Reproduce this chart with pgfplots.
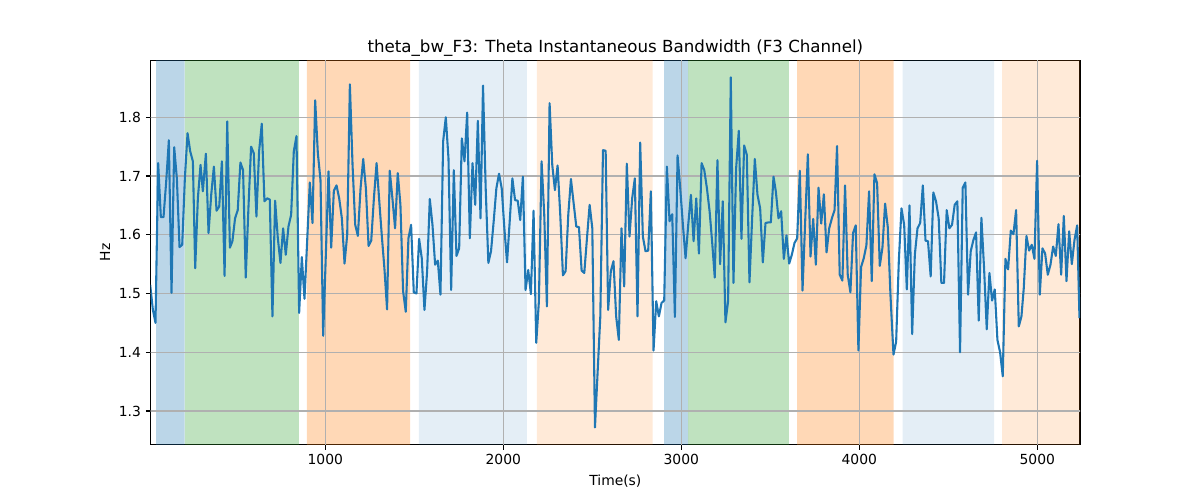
\documentclass[border=0pt]{standalone}
\usepackage{pgfplots}
\pgfplotsset{compat=1.18}
\usepackage{pgfplotstable}
\usepackage{fontspec}
\setmainfont{DejaVu Sans}
\definecolor{tabblue}{HTML}{1F77B4}
\definecolor{tabgreen}{HTML}{2CA02C}
\definecolor{taborange}{HTML}{FF7F0E}
\definecolor{gridgray}{RGB}{176,176,176}
\pgfplotstableread{
x y
16 1.515
31 1.473
46 1.450
61 1.722
76 1.630
91 1.630
106 1.690
121 1.761
136 1.501
151 1.749
166 1.696
181 1.579
196 1.583
211 1.696
226 1.773
241 1.742
256 1.725
269 1.543
284 1.662
299 1.719
312 1.674
329 1.738
344 1.603
359 1.668
374 1.716
389 1.641
404 1.648
419 1.725
434 1.530
449 1.793
464 1.578
478 1.589
493 1.628
508 1.642
523 1.723
538 1.710
553 1.527
568 1.645
583 1.750
598 1.739
613 1.631
628 1.742
643 1.789
658 1.657
673 1.662
688 1.660
703 1.461
718 1.658
733 1.595
748 1.552
763 1.611
778 1.566
793 1.614
808 1.634
823 1.742
838 1.768
853 1.467
868 1.562
883 1.491
898 1.589
913 1.689
928 1.620
943 1.829
958 1.739
973 1.693
988 1.428
1003 1.566
1018 1.708
1033 1.578
1048 1.675
1063 1.684
1078 1.662
1093 1.628
1108 1.551
1123 1.600
1138 1.856
1153 1.719
1168 1.617
1183 1.598
1198 1.679
1213 1.729
1228 1.679
1243 1.581
1258 1.590
1273 1.662
1288 1.722
1302 1.662
1317 1.600
1332 1.543
1347 1.473
1362 1.709
1377 1.662
1392 1.611
1407 1.705
1422 1.651
1437 1.504
1452 1.469
1467 1.594
1482 1.617
1497 1.502
1512 1.500
1527 1.593
1542 1.560
1557 1.472
1572 1.538
1587 1.661
1602 1.617
1617 1.549
1632 1.556
1647 1.498
1662 1.759
1677 1.800
1692 1.730
1707 1.506
1722 1.710
1737 1.564
1752 1.577
1767 1.764
1782 1.725
1797 1.808
1812 1.594
1827 1.722
1842 1.651
1857 1.794
1872 1.628
1886 1.854
1901 1.679
1916 1.552
1931 1.572
1946 1.623
1961 1.679
1976 1.704
1991 1.679
2006 1.611
2021 1.553
2036 1.623
2051 1.696
2066 1.659
2081 1.658
2095 1.625
2110 1.699
2125 1.506
2140 1.540
2155 1.499
2170 1.641
2185 1.416
2200 1.487
2215 1.725
2230 1.634
2245 1.478
2260 1.824
2275 1.719
2290 1.676
2305 1.718
2320 1.634
2335 1.531
2350 1.538
2365 1.634
2380 1.695
2395 1.654
2410 1.614
2425 1.613
2440 1.539
2455 1.535
2470 1.594
2485 1.651
2500 1.611
2515 1.272
2530 1.367
2545 1.461
2560 1.744
2575 1.743
2589 1.472
2604 1.538
2619 1.555
2634 1.461
2649 1.421
2664 1.611
2679 1.512
2694 1.721
2709 1.597
2724 1.662
2739 1.696
2754 1.461
2769 1.757
2784 1.597
2799 1.572
2814 1.573
2829 1.674
2844 1.403
2859 1.487
2874 1.461
2889 1.484
2904 1.488
2919 1.716
2934 1.623
2949 1.635
2964 1.460
2979 1.735
2994 1.679
3009 1.617
3024 1.560
3039 1.617
3054 1.668
3069 1.589
3084 1.662
3099 1.568
3114 1.722
3129 1.710
3144 1.679
3159 1.640
3173 1.589
3188 1.527
3203 1.727
3218 1.550
3233 1.657
3248 1.451
3263 1.487
3278 1.868
3293 1.518
3308 1.713
3323 1.777
3338 1.593
3353 1.752
3368 1.736
3383 1.519
3398 1.628
3413 1.729
3428 1.668
3443 1.645
3458 1.553
3473 1.620
3488 1.621
3503 1.621
3518 1.699
3531 1.674
3546 1.628
3561 1.640
3576 1.559
3591 1.599
3606 1.551
3621 1.566
3636 1.586
3651 1.594
3666 1.709
3681 1.505
3696 1.623
3711 1.737
3726 1.563
3741 1.627
3756 1.549
3771 1.680
3786 1.619
3801 1.669
3816 1.570
3831 1.611
3846 1.628
3861 1.642
3875 1.751
3890 1.532
3905 1.522
3920 1.684
3935 1.532
3950 1.502
3965 1.603
3980 1.616
3995 1.403
4010 1.545
4025 1.560
4040 1.582
4055 1.674
4070 1.521
4085 1.703
4100 1.688
4115 1.547
4130 1.578
4145 1.653
4160 1.613
4175 1.498
4192 1.396
4207 1.418
4222 1.555
4237 1.645
4252 1.617
4267 1.507
4282 1.650
4297 1.431
4312 1.566
4327 1.611
4342 1.620
4357 1.684
4372 1.590
4386 1.589
4401 1.529
4416 1.672
4431 1.657
4446 1.628
4461 1.518
4476 1.518
4491 1.642
4506 1.611
4521 1.617
4536 1.651
4551 1.657
4566 1.400
4581 1.680
4596 1.689
4611 1.498
4626 1.572
4641 1.591
4656 1.604
4671 1.454
4686 1.629
4701 1.543
4716 1.439
4731 1.535
4746 1.488
4761 1.507
4776 1.421
4791 1.400
4806 1.359
4821 1.559
4836 1.541
4851 1.607
4866 1.601
4881 1.642
4896 1.444
4911 1.461
4924 1.509
4939 1.598
4954 1.573
4969 1.583
4984 1.559
4999 1.726
5014 1.498
5029 1.577
5044 1.568
5059 1.532
5074 1.549
5089 1.580
5104 1.564
5119 1.618
5134 1.532
5149 1.632
5164 1.521
5179 1.606
5194 1.550
5209 1.591
5224 1.616
5237 1.458
}\datatable
\begin{document}
\begin{tikzpicture}
\path[use as bounding box] (0,0) rectangle (864pt,360pt);
\begin{axis}[
  at={(108.5pt,39.8pt)}, anchor=south west,
  scale only axis,
  width=669.1pt, height=276.8pt,
  xmin=19, xmax=5240, ymin=1.2426, ymax=1.897,
  xtick={1000,2000,3000,4000,5000},
  ytick={1.3,1.4,1.5,1.6,1.7,1.8},
  xtick pos=lower, ytick pos=left,
  tick align=outside,
  major tick length=3.5pt,
  tick style={black, line width=0.8pt},
  axis line style={line width=0.8pt},
  tick label style={font=\fontsize{10}{12}\selectfont},
  /pgf/number format/assume math mode=true,
  /pgf/number format/1000 sep={},
  yticklabel style={/pgf/number format/fixed, /pgf/number format/precision=1, /pgf/number format/fixed zerofill},
  xlabel={Time(s)},
  ylabel={Hz},
  xlabel style={at={(axis description cs:0.5,0)}, anchor=center, yshift=-26.1pt, font=\fontsize{10}{12}\selectfont},
  ylabel style={at={(axis description cs:0,0.5)}, anchor=center, yshift=32.9pt, font=\fontsize{10}{12}\selectfont},
  title={theta\_bw\_F3: Theta Instantaneous Bandwidth (F3 Channel)},
  title style={at={(axis description cs:0.5,1)}, anchor=center, yshift=2.7pt, font=\fontsize{12}{14}\selectfont},
]
\addplot[draw=none, fill=tabblue, fill opacity=0.3] coordinates {(49,1.0) (49,2.0) (210,2.0) (210,1.0) (49,1.0)};
\addplot[draw=none, fill=tabgreen, fill opacity=0.3] coordinates {(211,1.0) (211,2.0) (851,2.0) (851,1.0) (211,1.0)};
\addplot[draw=none, fill=taborange, fill opacity=0.3] coordinates {(897,1.0) (897,2.0) (1476,2.0) (1476,1.0) (897,1.0)};
\addplot[draw=none, fill=tabblue, fill opacity=0.12] coordinates {(1526,1.0) (1526,2.0) (2133,2.0) (2133,1.0) (1526,1.0)};
\addplot[draw=none, fill=taborange, fill opacity=0.16] coordinates {(2189,1.0) (2189,2.0) (2839,2.0) (2839,1.0) (2189,1.0)};
\addplot[draw=none, fill=tabblue, fill opacity=0.3] coordinates {(2903,1.0) (2903,2.0) (3038,2.0) (3038,1.0) (2903,1.0)};
\addplot[draw=none, fill=tabgreen, fill opacity=0.3] coordinates {(3039,1.0) (3039,2.0) (3605,2.0) (3605,1.0) (3039,1.0)};
\addplot[draw=none, fill=taborange, fill opacity=0.3] coordinates {(3650,1.0) (3650,2.0) (4193,2.0) (4193,1.0) (3650,1.0)};
\addplot[draw=none, fill=tabblue, fill opacity=0.12] coordinates {(4244,1.0) (4244,2.0) (4757,2.0) (4757,1.0) (4244,1.0)};
\addplot[draw=none, fill=taborange, fill opacity=0.16] coordinates {(4802,1.0) (4802,2.0) (5300,2.0) (5300,1.0) (4802,1.0)};
\addplot[gridgray, line width=0.8pt] coordinates {(0,1.3) (5300,1.3)};
\addplot[gridgray, line width=0.8pt] coordinates {(0,1.4) (5300,1.4)};
\addplot[gridgray, line width=0.8pt] coordinates {(0,1.5) (5300,1.5)};
\addplot[gridgray, line width=0.8pt] coordinates {(0,1.6) (5300,1.6)};
\addplot[gridgray, line width=0.8pt] coordinates {(0,1.7) (5300,1.7)};
\addplot[gridgray, line width=0.8pt] coordinates {(0,1.8) (5300,1.8)};
\addplot[gridgray, line width=0.8pt] coordinates {(1000,1.0) (1000,2.0)};
\addplot[gridgray, line width=0.8pt] coordinates {(2000,1.0) (2000,2.0)};
\addplot[gridgray, line width=0.8pt] coordinates {(3000,1.0) (3000,2.0)};
\addplot[gridgray, line width=0.8pt] coordinates {(4000,1.0) (4000,2.0)};
\addplot[gridgray, line width=0.8pt] coordinates {(5000,1.0) (5000,2.0)};
\addplot[tabblue, line width=1.5pt, line join=round, mark=none] table[x=x,y=y] {\datatable};
\end{axis}
\end{tikzpicture}
\end{document}
